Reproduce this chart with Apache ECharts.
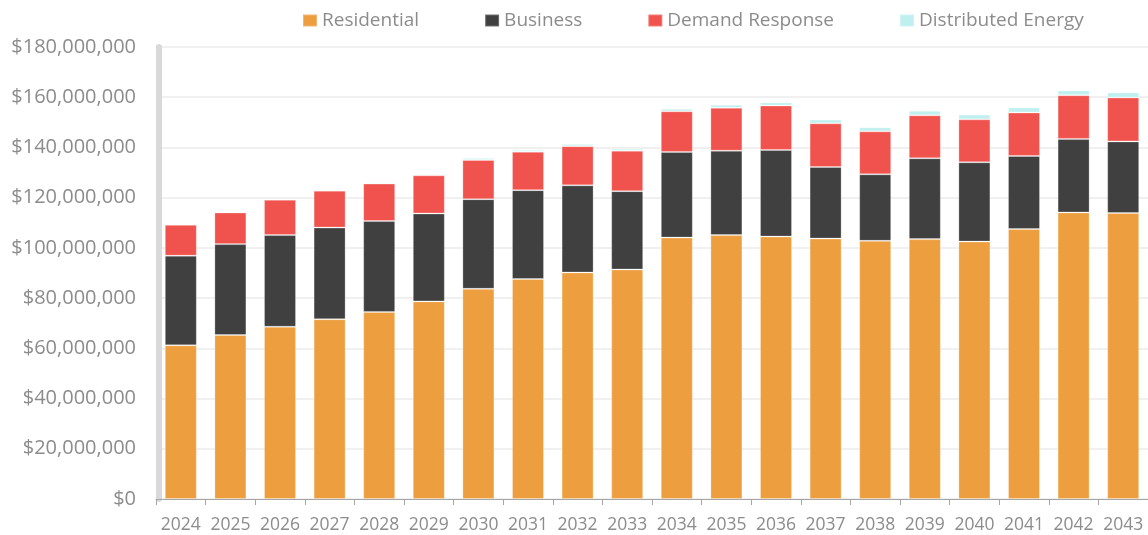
<!DOCTYPE html>
<html>
<head>
<meta charset="utf-8">
<script src="https://cdn.jsdelivr.net/npm/echarts@6/dist/echarts.min.js"></script>
<style>
html,body{margin:0;padding:0;background:#fff;}
#chart{width:1148px;height:535px;}
</style>
</head>
<body>
<div id="chart"></div>
<script>
// Values in millions of dollars
const years = ['2024','2025','2026','2027','2028','2029','2030','2031','2032','2033','2034','2035','2036','2037','2038','2039','2040','2041','2042','2043'];
const residential = [61.2,65.3,68.6,71.6,74.5,78.7,83.7,87.6,90.2,91.4,104.1,105.1,104.5,103.7,102.8,103.5,102.5,107.5,114.1,113.9];
const business = [35.7,36.2,36.5,36.5,36.2,35.0,35.7,35.4,34.7,31.2,34.1,33.6,34.5,28.5,26.5,32.2,31.6,29.1,29.3,28.5];
const demandResponse = [12.3,12.6,14.1,14.7,14.9,15.2,15.6,15.3,15.6,16.1,16.2,17.1,17.7,17.4,17.1,17.1,17.1,17.3,17.4,17.5];
const distributedEnergy = [0.3,0.3,0.3,0.4,0.5,0.5,0.8,0.7,0.9,0.8,1.0,1.2,1.2,1.5,1.6,1.8,1.9,2.0,1.9,2.0];
const seriesNames = ['Residential','Business','Demand Response','Distributed Energy'];
const colors = ['#ED9F40','#404040','#F0534E','#BFF0EF'];

const chart = echarts.init(document.getElementById('chart'), null, {renderer:'canvas'});
const FONT = 'Open Sans';
function fmt(v){ return '$' + Math.round(v*1e6).toLocaleString('en-US'); }
const dataSets = [residential, business, demandResponse, distributedEnergy];
const series = seriesNames.map((n,i)=>({
  name:n, type:'bar', stack:'total', barWidth:32,
  data:dataSets[i],
  itemStyle:{color:colors[i], borderColor:'rgba(255,255,255,0.25)', borderWidth:1},
  emphasis:{disabled:true}
}));
chart.setOption({
  animation:false,
  textStyle:{fontFamily:FONT},
  legend:{
    top:6, left:297, itemGap:65, itemWidth:14, itemHeight:12, icon:'rect',
    textStyle:{fontFamily:FONT, fontSize:19, color:'#8c8c8c'},
    data:seriesNames
  },
  grid:{left:156, right:-8, top:47, bottom:36, containLabel:false},
  xAxis:{
    type:'category', data:years,
    axisLine:{show:true, lineStyle:{color:'#a6a6a6', width:1}},
    axisTick:{show:true, length:6, lineStyle:{color:'#a6a6a6'}},
    axisLabel:{fontFamily:FONT, fontSize:17.5, color:'#8c8c8c', margin:17, interval:0, hideOverlap:false}
  },
  yAxis:{
    type:'value', min:0, max:180, interval:20, offset:-3,
    axisLine:{show:true, lineStyle:{color:'#d9d9d9', width:6}},
    axisTick:{show:false},
    splitLine:{lineStyle:{color:'#ebebeb', width:1.5}},
    axisLabel:{fontFamily:FONT, fontSize:20, color:'#8c8c8c', margin:23, formatter:fmt}
  },
  series:series
});
</script>
</body>
</html>
